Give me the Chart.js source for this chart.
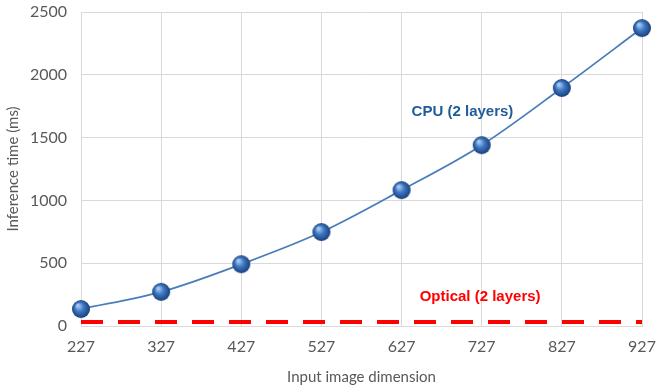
<!DOCTYPE html>
<html>
<head>
<meta charset="utf-8">
<script src="https://cdn.jsdelivr.net/npm/chart.js@4/dist/chart.umd.min.js"></script>
<style>
  html, body { margin: 0; padding: 0; background: #fff; }
  #wrap { width: 656px; height: 390px; }
</style>
</head>
<body>
<div id="wrap"><canvas id="chart" width="656" height="390"></canvas></div>
<script>
// data
const dimensions = ['227', '327', '427', '527', '627', '727', '827', '927'];
const cpuTimes = [135, 272, 492, 748, 1082, 1440, 1895, 2372];
const opticalTimes = [32, 32, 32, 32, 32, 32, 32, 32];
const yTicks = [0, 500, 1000, 1500, 2000, 2500];

const FONT = 'Lato, "Open Sans", sans-serif';

// little shaded ball used as the marker
function makeBall(r) {
    const c = document.createElement('canvas');
    c.width = c.height = r * 2 + 2;
    const g = c.getContext('2d');
    const cx = r + 1, cy = r + 1;
    const grad = g.createRadialGradient(cx - r * 0.35, cy - r * 0.4, r * 0.1, cx, cy, r);
    grad.addColorStop(0, '#a9c8f0');
    grad.addColorStop(0.45, '#3d78c4');
    grad.addColorStop(1, '#1a3f78');
    g.fillStyle = grad;
    g.beginPath();
    g.arc(cx, cy, r, 0, Math.PI * 2);
    g.fill();
    return c;
}
const ball = makeBall(9);

// text labels next to the series
const seriesLabels = {
    id: 'seriesLabels',
    afterDatasetsDraw(chart) {
        const { ctx, scales } = chart;
        ctx.save();
        ctx.font = 'bold 15px "Liberation Sans", Arial, sans-serif';
        ctx.textAlign = 'center';
        ctx.textBaseline = 'middle';
        ctx.fillStyle = '#1f5c99';
        ctx.fillText('CPU (2 layers)', scales.x.getPixelForValue(4.76), scales.y.getPixelForValue(1704));
        ctx.fillStyle = '#ff0000';
        ctx.fillText('Optical (2 layers)', scales.x.getPixelForValue(4.98), scales.y.getPixelForValue(231));
        ctx.restore();
    }
};

new Chart(document.getElementById('chart'), {
    type: 'line',
    data: {
        labels: dimensions,
        datasets: [
            {
                label: 'Optical (2 layers)',
                data: opticalTimes,
                borderColor: '#ff0000',
                borderWidth: 4,
                borderDash: [22, 15],
                pointRadius: 0,
                fill: false,
                order: 2
            },
            {
                label: 'CPU (2 layers)',
                data: cpuTimes,
                borderColor: '#4a7ebb',
                borderWidth: 1.8,
                tension: 0.4,
                cubicInterpolationMode: 'monotone',
                pointStyle: ball,
                pointRadius: 9,
                fill: false,
                order: 1
            }
        ]
    },
    options: {
        responsive: false,
        animation: false,
        layout: { padding: { top: 12, right: 14, left: 0, bottom: 0 } },
        plugins: {
            legend: { display: false },
            tooltip: { enabled: false }
        },
        scales: {
            x: {
                offset: false,
                grid: { color: '#d9d9d9', drawTicks: false },
                border: { color: '#d9d9d9' },
                ticks: { color: '#595959', font: { family: FONT, size: 16 }, padding: 11, maxRotation: 0 },
                title: { display: true, text: 'Input image dimension', color: '#595959', font: { family: FONT, size: 15 }, padding: { top: 4 } },
                afterFit(s) { s.height = 64; s.paddingLeft = 0; s.paddingRight = 0; }
            },
            y: {
                min: 0,
                max: 2500,
                afterBuildTicks(s) { s.ticks = yTicks.map(v => ({ value: v })); },
                grid: { color: '#d9d9d9', drawTicks: false },
                border: { display: false },
                ticks: { color: '#595959', font: { family: FONT, size: 16 }, padding: 14, callback: v => String(v) },
                title: { display: true, text: 'Inference time (ms)', color: '#595959', font: { family: FONT, size: 15 }, padding: { bottom: 4 } },
                afterFit(s) { s.width = 81; s.paddingTop = 0; s.paddingBottom = 0; }
            }
        }
    },
    plugins: [seriesLabels]
});
</script>
</body>
</html>
